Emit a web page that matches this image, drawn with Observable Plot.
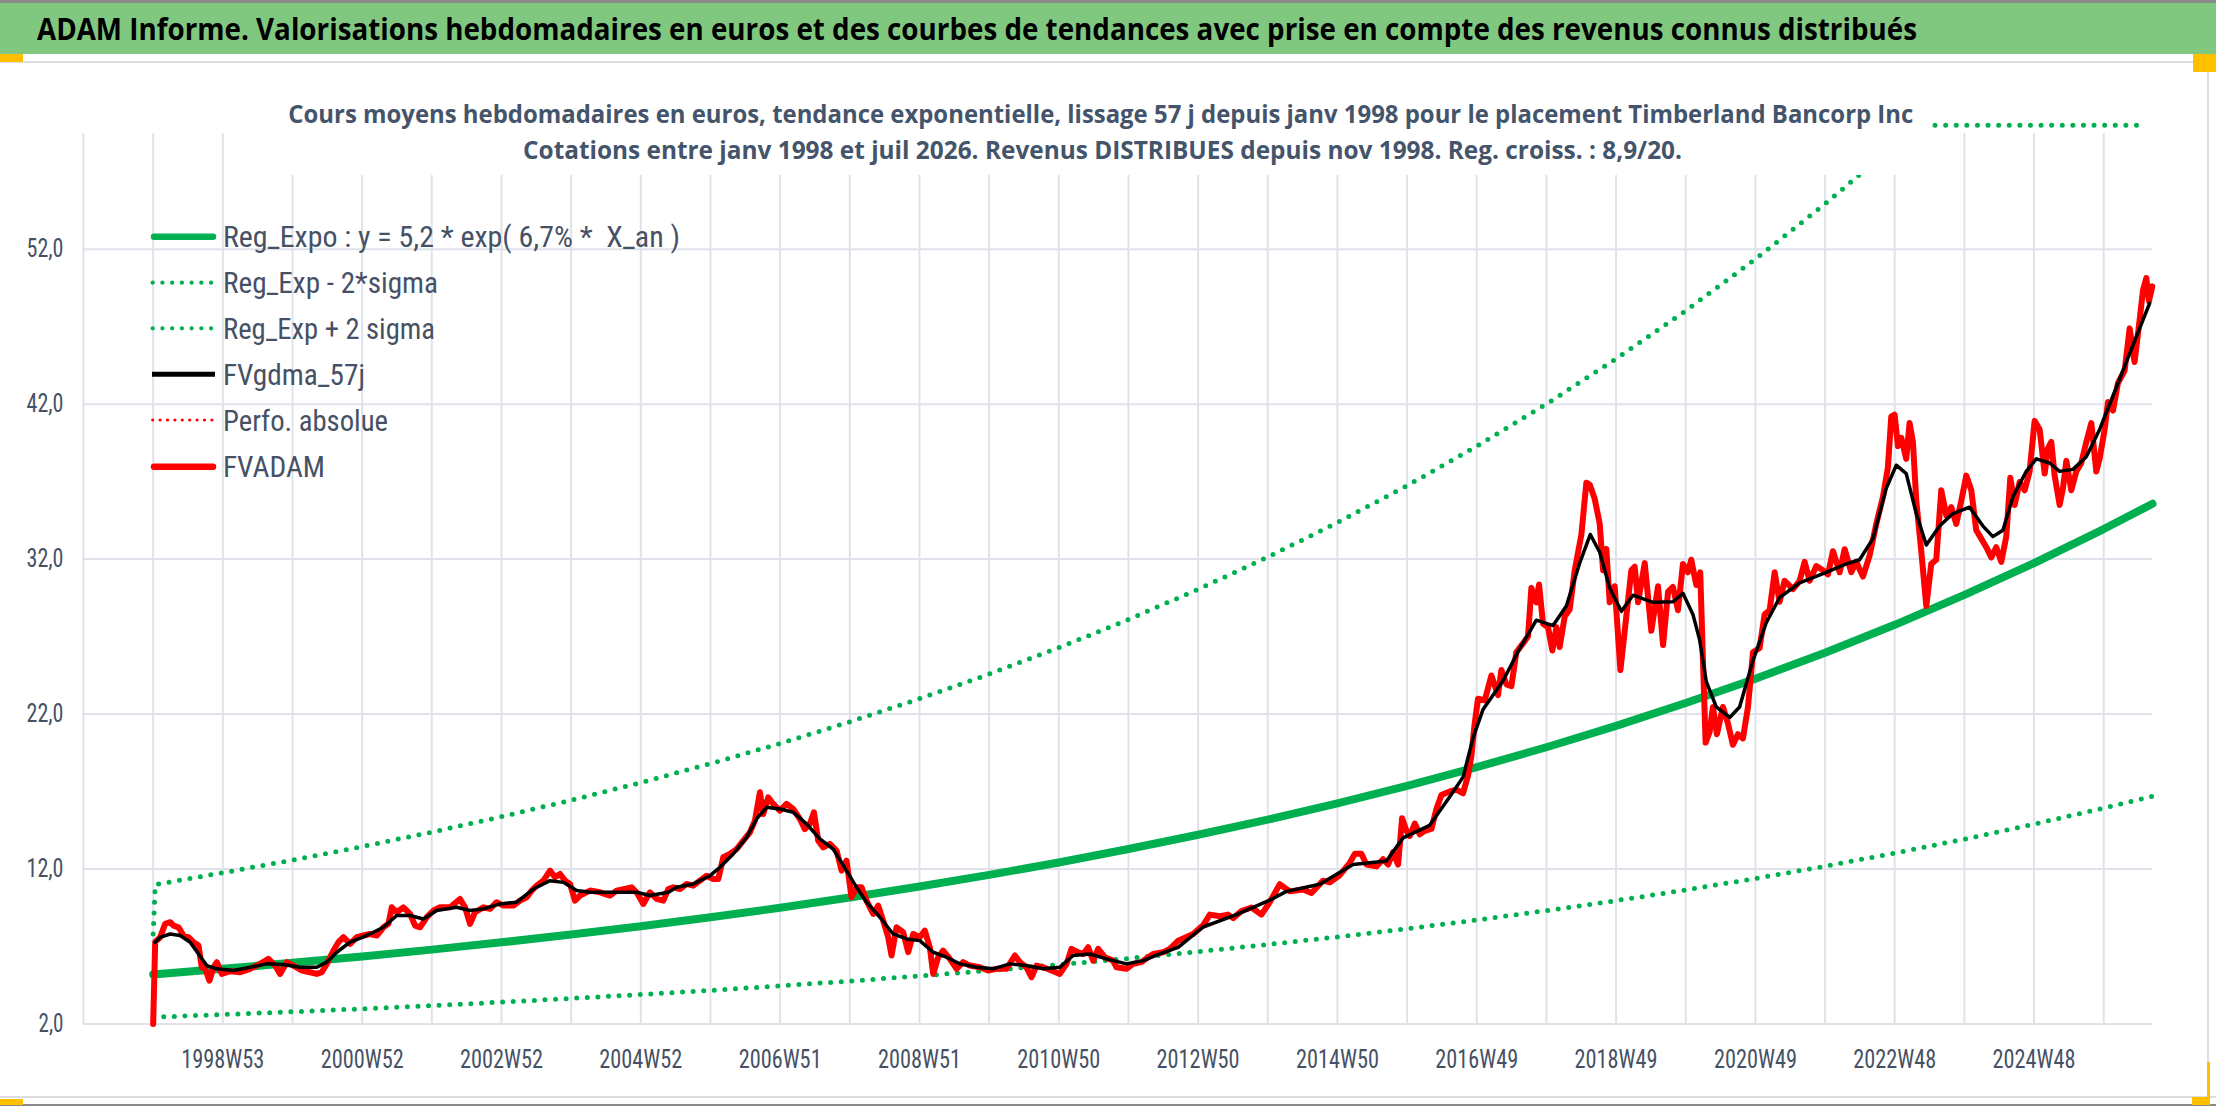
<!DOCTYPE html>
<html><head><meta charset="utf-8">
<script src="https://cdn.jsdelivr.net/npm/d3@7"></script>
<script src="https://cdn.jsdelivr.net/npm/@observablehq/plot@0.6"></script>
<style>
body{margin:0;background:#fff;}
#wrap{position:relative;width:2216px;height:1106px;overflow:hidden;background:#fff;}
.abs{position:absolute;overflow:visible;}
svg{overflow:visible;}
svg text{white-space:pre;}
</style></head><body><div id="wrap"></div>
<script>
// ---------- texts ----------
const titleText = "ADAM Informe. Valorisations hebdomadaires en euros et des courbes de tendances avec prise en compte des revenus connus distribués";
const subtitle1 = "Cours moyens hebdomadaires en euros, tendance exponentielle, lissage 57 j depuis janv 1998 pour le placement Timberland Bancorp Inc";
const subtitle2 = "Cotations entre janv 1998 et juil 2026. Revenus DISTRIBUES depuis nov 1998. Reg. croiss. : 8,9/20.";
const legendLabels = ["Reg_Expo : y = 5,2 * exp( 6,7% *  X_an )", "Reg_Exp - 2*sigma", "Reg_Exp + 2 sigma", "FVgdma_57j", "Perfo. absolue", "FVADAM"];

// ---------- axes ----------
const yTicks = [2, 12, 22, 32, 42, 52];
const gridT = d3.range(-1, 29);          // one vertical gridline per year (years since first quote)
const labelT = [1, 3, 5, 7, 9, 11, 13, 15, 17, 19, 21, 23, 25, 27];
const xLabels = ["1998W53","2000W52","2002W52","2004W52","2006W51","2008W51","2010W50","2012W50","2014W50","2016W49","2018W49","2020W49","2022W48","2024W48"];

// ---------- trend curves (years since start, value in euros) ----------
const trendT = [0,1,2,3,4,5,6,7,8,9,10,11,12,13,14,15,16,17,18,19,20,21,22,23,24,25,26,27,28,28.7];
const regExpo = [5.2,5.56,5.95,6.36,6.8,7.27,7.77,8.31,8.89,9.5,10.16,10.87,11.62,12.42,13.29,14.21,15.19,16.24,17.37,18.57,19.86,21.24,22.71,24.28,25.96,27.76,29.69,31.74,33.94,35.57];
const regLow = [2.44,2.61,2.79,2.98,3.19,3.41,3.65,3.9,4.17,4.46,4.77,5.1,5.45,5.83,6.23,6.67,7.13,7.62,8.15,8.71,9.32,9.96,10.65,11.39,12.18,13.03,13.93,14.9,15.93,16.69];
const regHigh = [[0,7.8],[0.03,11.0],[1,11.76],[2,12.58],[3,13.45],[4,14.38],[5,15.38],[6,16.44],[7,17.58],[8,18.8],[9,20.1],[10,21.5],[11,22.99],[12,24.58],[13,26.28],[14,28.1],[15,30.05],[16,32.13],[17,34.36],[18,36.74],[19,39.29],[20,42.01],[21,44.92],[22,48.03],[23,51.36],[24,54.92],[25,58.73],[25.3,60],[26,62.8],[27,67.15],[28,71.8],[28.55,74.5]];

// ---------- FVADAM (weekly quotes, sampled) ----------
const fvadam = [[0,2.0],[0.029,7.3],[0.1,7.6],[0.172,8.46],[0.244,8.57],[0.292,8.35],[0.364,8.24],[0.435,7.71],[0.507,7.6],[0.579,7.28],[0.651,7.06],[0.698,5.66],[0.746,5.56],[0.808,4.8],[0.866,5.66],[0.914,5.99],[0.985,5.23],[1.105,5.41],[1.248,5.34],[1.392,5.56],[1.535,5.88],[1.655,6.2],[1.751,5.77],[1.822,5.23],[1.918,5.99],[2.014,5.77],[2.133,5.45],[2.253,5.34],[2.348,5.23],[2.42,5.34],[2.492,5.88],[2.588,6.74],[2.659,7.28],[2.731,7.6],[2.827,7.17],[2.923,7.6],[3.018,7.71],[3.114,7.81],[3.21,7.71],[3.305,8.24],[3.377,8.46],[3.425,9.53],[3.496,9.21],[3.592,9.53],[3.688,9.1],[3.76,8.35],[3.831,8.24],[3.927,8.89],[4.023,9.32],[4.118,9.53],[4.262,9.53],[4.405,10.07],[4.477,9.53],[4.549,8.46],[4.62,9.21],[4.74,9.53],[4.836,9.43],[4.931,9.86],[5.027,9.64],[5.171,9.64],[5.266,9.96],[5.362,10.18],[5.434,10.61],[5.505,10.93],[5.601,11.25],[5.697,11.9],[5.768,11.47],[5.84,11.68],[5.912,11.25],[5.984,11.04],[6.055,9.96],[6.127,10.29],[6.271,10.61],[6.414,10.5],[6.558,10.29],[6.653,10.61],[6.868,10.82],[6.94,10.5],[7.036,9.75],[7.131,10.5],[7.227,10.07],[7.323,9.96],[7.395,10.71],[7.466,10.82],[7.562,10.71],[7.658,11.04],[7.753,10.93],[7.849,11.25],[7.945,11.57],[8.04,11.36],[8.112,11.36],[8.184,12.76],[8.279,12.97],[8.375,13.29],[8.471,13.83],[8.566,14.37],[8.638,15.12],[8.71,16.95],[8.757,15.55],[8.829,16.63],[8.901,16.2],[8.996,15.76],[9.092,16.2],[9.188,15.88],[9.283,15.23],[9.355,14.58],[9.427,14.91],[9.485,15.66],[9.547,13.83],[9.619,13.4],[9.714,13.62],[9.81,13.19],[9.882,11.9],[9.953,12.54],[10.025,10.18],[10.097,10.82],[10.169,10.82],[10.24,9.96],[10.336,9.1],[10.408,9.64],[10.479,8.67],[10.551,7.6],[10.599,6.42],[10.671,8.24],[10.766,7.92],[10.838,6.64],[10.91,7.81],[11.005,7.6],[11.077,8.03],[11.149,6.95],[11.197,5.23],[11.269,6.31],[11.34,6.74],[11.436,6.2],[11.532,5.56],[11.627,5.99],[11.723,5.77],[11.867,5.66],[11.986,5.45],[12.106,5.56],[12.249,5.56],[12.369,6.42],[12.441,5.99],[12.536,5.66],[12.608,5.02],[12.68,5.77],[12.776,5.66],[12.895,5.45],[13.015,5.23],[13.111,5.88],[13.182,6.85],[13.278,6.63],[13.35,6.52],[13.422,6.95],[13.493,6.09],[13.565,6.85],[13.661,6.31],[13.78,6.09],[13.828,5.66],[13.972,5.56],[14.067,5.88],[14.187,5.99],[14.283,6.31],[14.355,6.52],[14.498,6.63],[14.594,6.85],[14.714,7.38],[14.928,7.8],[15.072,8.37],[15.168,9.06],[15.311,8.95],[15.431,9.06],[15.503,8.83],[15.622,9.29],[15.766,9.52],[15.909,9.06],[16.029,9.87],[16.172,11.02],[16.316,10.56],[16.507,10.68],[16.627,10.45],[16.794,11.25],[16.89,11.14],[17.033,11.6],[17.177,12.4],[17.249,12.98],[17.344,12.98],[17.416,12.29],[17.559,12.17],[17.655,12.63],[17.727,12.29],[17.799,13.09],[17.871,12.29],[17.928,15.28],[17.99,14.47],[18.038,14.13],[18.11,14.93],[18.181,14.24],[18.253,14.47],[18.349,14.59],[18.42,15.86],[18.492,16.78],[18.612,17.01],[18.707,17.12],[18.803,16.89],[18.875,18.04],[18.923,19.31],[18.97,21.38],[19.018,22.99],[19.114,22.88],[19.21,24.49],[19.305,23.22],[19.353,24.84],[19.425,23.92],[19.497,23.8],[19.568,25.99],[19.664,26.56],[19.736,27.02],[19.784,30.13],[19.855,29.21],[19.894,30.36],[19.951,27.83],[20.023,27.6],[20.085,26.1],[20.143,27.6],[20.19,26.33],[20.262,28.29],[20.334,28.75],[20.406,31.28],[20.502,33.59],[20.573,36.93],[20.621,36.81],[20.693,35.89],[20.765,34.28],[20.813,31.28],[20.86,32.66],[20.908,29.21],[20.98,30.25],[21.062,24.84],[21.124,27.37],[21.219,31.28],[21.267,31.51],[21.315,29.21],[21.411,31.74],[21.506,27.37],[21.602,30.25],[21.674,26.45],[21.746,29.9],[21.816,30.2],[21.888,28.7],[21.96,31.69],[22.031,31.15],[22.079,31.96],[22.151,30.33],[22.208,31.15],[22.247,25.45],[22.285,20.16],[22.342,20.84],[22.39,22.46],[22.448,20.7],[22.534,22.46],[22.606,21.38],[22.677,20.02],[22.749,20.7],[22.821,20.43],[22.893,22.46],[22.965,25.99],[23.06,26.26],[23.132,28.43],[23.204,28.7],[23.276,31.15],[23.347,29.25],[23.419,30.6],[23.539,30.06],[23.635,30.6],[23.706,31.82],[23.778,30.6],[23.874,31.55],[23.969,31.28],[24.041,31.01],[24.113,32.51],[24.209,31.15],[24.281,32.64],[24.376,31.15],[24.448,31.82],[24.544,30.87],[24.639,32.23],[24.735,34.27],[24.831,36.03],[24.902,37.93],[24.95,41.19],[24.998,41.32],[25.046,39.29],[25.094,39.83],[25.165,38.47],[25.213,40.78],[25.261,39.56],[25.309,35.76],[25.381,32.5],[25.453,28.97],[25.524,31.69],[25.596,31.96],[25.668,36.44],[25.74,34.81],[25.811,35.35],[25.883,34.27],[25.955,35.76],[26.027,37.39],[26.099,36.44],[26.17,33.86],[26.242,33.32],[26.314,32.77],[26.386,32.1],[26.457,32.77],[26.529,31.82],[26.601,33.45],[26.659,37.25],[26.721,35.49],[26.793,36.98],[26.865,36.44],[26.936,37.66],[27.008,40.92],[27.08,40.37],[27.152,37.52],[27.199,39.15],[27.247,39.56],[27.295,37.39],[27.367,35.49],[27.415,36.58],[27.463,38.34],[27.534,36.44],[27.606,37.66],[27.678,38.2],[27.75,39.56],[27.822,40.78],[27.893,37.66],[27.941,38.47],[28.013,40.37],[28.061,42.14],[28.133,41.59],[28.204,43.36],[28.3,44.17],[28.372,46.89],[28.443,44.72],[28.515,47.43],[28.563,49.33],[28.611,50.14],[28.649,48.65],[28.697,49.6]];

// ---------- FVgdma_57j (smoothed) ----------
const fvgdma = [[0.029,7.28],[0.1,7.6],[0.244,7.81],[0.387,7.71],[0.531,7.28],[0.651,6.52],[0.77,5.77],[0.914,5.56],[1.153,5.45],[1.392,5.66],[1.631,5.88],[1.87,5.84],[2.109,5.66],[2.348,5.66],[2.492,5.99],[2.636,6.63],[2.827,7.28],[3.066,7.71],[3.305,8.24],[3.496,9.0],[3.688,9.0],[3.879,8.78],[4.07,9.32],[4.357,9.53],[4.549,9.32],[4.74,9.43],[4.979,9.75],[5.218,9.86],[5.458,10.71],[5.697,11.25],[5.888,11.14],[6.079,10.61],[6.271,10.5],[6.653,10.5],[6.94,10.5],[7.131,10.29],[7.395,10.5],[7.514,10.82],[7.753,11.04],[7.993,11.57],[8.136,12.11],[8.327,12.97],[8.519,14.04],[8.662,15.23],[8.806,15.98],[8.996,15.87],[9.188,15.66],[9.379,14.91],[9.571,13.94],[9.762,13.29],[9.953,11.9],[10.097,10.82],[10.24,9.86],[10.432,8.89],[10.623,7.81],[10.815,7.49],[11.005,7.38],[11.197,6.63],[11.388,6.31],[11.58,5.88],[11.819,5.66],[12.058,5.56],[12.297,5.88],[12.536,5.77],[12.776,5.56],[13.015,5.66],[13.206,6.42],[13.445,6.52],[13.685,6.2],[13.972,5.88],[14.211,6.09],[14.45,6.52],[14.714,6.95],[15.072,8.26],[15.55,9.06],[16.029,9.99],[16.268,10.56],[16.746,11.02],[17.224,12.29],[17.703,12.52],[17.942,14.01],[18.324,14.82],[18.612,16.66],[18.803,17.93],[18.947,20.46],[19.09,22.3],[19.377,24.15],[19.616,26.22],[19.855,28.06],[20.095,27.71],[20.286,28.98],[20.477,31.74],[20.63,33.59],[20.765,32.44],[20.908,30.13],[21.076,28.63],[21.243,29.67],[21.53,29.21],[21.816,29.25],[21.96,29.79],[22.103,28.43],[22.199,26.8],[22.295,24.09],[22.438,22.46],[22.63,21.78],[22.773,22.46],[22.965,25.45],[23.156,27.89],[23.347,29.52],[23.635,30.47],[24.017,31.15],[24.304,31.69],[24.495,31.96],[24.687,33.32],[24.878,36.57],[25.022,38.06],[25.165,37.52],[25.309,34.94],[25.453,32.91],[25.644,34.13],[25.835,34.94],[26.074,35.35],[26.266,34.13],[26.409,33.45],[26.553,33.86],[26.696,36.03],[26.888,37.66],[27.031,38.47],[27.223,38.2],[27.367,37.66],[27.558,37.79],[27.75,38.61],[27.941,40.37],[28.133,42.54],[28.324,44.71],[28.515,46.89],[28.659,48.51]];

// ---------- build page ----------
const GREEN = "#00B050", RED = "#FF0000", GRID = "#dfe3e9", TXT = "#465165";
const NARROW = "'Liberation Sans Narrow','Roboto Condensed','DejaVu Sans Condensed',Roboto,sans-serif";
const wrap = document.getElementById("wrap");
function div(css){const d=document.createElement("div");d.className="abs";d.style.cssText=css;wrap.appendChild(d);return d;}

div("left:0;top:0;width:2216px;height:3px;background:#8a8a8a;");
const bar = div("left:0;top:3px;width:2216px;height:51px;background:#80c880;");
bar.innerHTML = `<svg width="2216" height="51"><text x="37" y="36.5" font-family="'Open Sans',Lato,sans-serif" font-weight="700" font-size="31" fill="#000" textLength="1880" lengthAdjust="spacingAndGlyphs">${titleText}</text></svg>`;
div("left:0;top:61px;width:2216px;height:2px;background:#dcdee3;");

const yFmt = d => d.toFixed(1).replace(".", ",");
const labelOf = new Map(labelT.map((t,i)=>[t, xLabels[i]]));
const trend = trendT.map((t,i)=>({t, c: regExpo[i], lo: regLow[i]}));

const chart = Plot.plot({
  width: 2216, height: 1035,
  marginLeft: 83, marginRight: 64, marginTop: 62.7, marginBottom: 73.5,
  x: {domain: [-1, 28.7]},
  y: {domain: [2, 60], clamp: true},
  style: {fontFamily: NARROW, fontSize: "25px", color: TXT, background: "transparent", overflow: "visible"},
  marks: [
    Plot.ruleX(gridT, {x: d=>d, y1: 2, y2: 60, stroke: GRID, strokeWidth: 2, insetBottom: -8.5}),
    Plot.ruleY(yTicks, {y: d=>d, x1: -1, x2: 28.7, stroke: GRID, strokeWidth: 2}),
    Plot.axisY({ticks: yTicks, tickSize: 0, tickPadding: 20, tickFormat: yFmt, label: null}),
    Plot.axisX({ticks: labelT, tickSize: 0, tickPadding: 26, tickFormat: d => labelOf.get(d), label: null}),
    Plot.line(trend, {x: "t", y: "lo", stroke: GREEN, strokeWidth: 5, strokeDasharray: "0 10.6", strokeLinecap: "round"}),
    Plot.line(regHigh, {x: d=>d[0], y: d=>d[1], stroke: GREEN, strokeWidth: 5, strokeDasharray: "0 10.6", strokeLinecap: "round"}),
    Plot.line(trend, {x: "t", y: "c", stroke: GREEN, strokeWidth: 8}),
    Plot.line(fvadam, {x: d=>d[0], y: d=>d[1], stroke: RED, strokeWidth: 6, strokeLinejoin: "round"}),
    Plot.line(fvgdma, {x: d=>d[0], y: d=>d[1], stroke: "#000", strokeWidth: 3.5, strokeLinejoin: "round"})
  ]
});
const holder = div("left:0;top:62px;width:2216px;height:1035px;");
holder.appendChild(chart);
// tall, narrow tick labels like the original
chart.querySelectorAll("g[aria-label='y-axis tick label'] text").forEach(t => {
  t.setAttribute("textLength", t.textContent.length > 3 ? 37 : 25);
  t.setAttribute("lengthAdjust", "spacingAndGlyphs");
});
chart.querySelectorAll("g[aria-label='x-axis tick label'] text").forEach(t => {
  t.setAttribute("textLength", 83);
  t.setAttribute("lengthAdjust", "spacingAndGlyphs");
});

// subtitle box (white, overlapping the plot area like the original title box)
const sub = div("left:279px;top:88px;width:1650px;height:87px;background:#fff;");
sub.innerHTML = `<svg width="1650" height="87">
<text x="9.3" y="35" font-family="'Open Sans',Lato,sans-serif" font-weight="700" font-size="25" fill="#44546a" textLength="1625" lengthAdjust="spacingAndGlyphs">${subtitle1}</text>
<text x="244" y="70.5" font-family="'Open Sans',Lato,sans-serif" font-weight="700" font-size="25" fill="#44546a" textLength="1159" lengthAdjust="spacingAndGlyphs">${subtitle2}</text></svg>`;

// legend
const rows = [236.7, 282.7, 328.3, 374.3, 420, 466.7];
const widths = [457, 215, 212, 142, 165, 102];
const samples = [
  `stroke="${GREEN}" stroke-width="6.5" stroke-linecap="round" x1="154" x2="213"`,
  `stroke="${GREEN}" stroke-width="4.3" stroke-linecap="round" stroke-dasharray="0 9.73" x1="152.7" x2="211.2"`,
  `stroke="${GREEN}" stroke-width="4.3" stroke-linecap="round" stroke-dasharray="0 9.73" x1="152.7" x2="211.2"`,
  `stroke="#000" stroke-width="5" x1="152" x2="215"`,
  `stroke="${RED}" stroke-width="3.2" stroke-linecap="round" stroke-dasharray="0 7.4" x1="152.7" x2="212"`,
  `stroke="${RED}" stroke-width="6.5" stroke-linecap="round" x1="154" x2="213"`
];
let lg = `<svg width="700" height="500">`;
legendLabels.forEach((lab,i)=>{
  lg += `<line ${samples[i]} y1="${rows[i]}" y2="${rows[i]}"/>`;
  lg += `<text x="223" y="${rows[i]+10.5}" font-family="${NARROW.replace(/'/g,"&#39;")}" font-size="30" fill="${TXT}" textLength="${widths[i]}" lengthAdjust="spacingAndGlyphs">${lab}</text>`;
});
lg += `</svg>`;
const leg = div("left:0;top:0;width:700px;height:500px;pointer-events:none;");
leg.innerHTML = lg;

// frame lines and handles
div("left:0;top:1096px;width:2216px;height:2px;background:#dcdee3;");
div("left:0;top:1104px;width:2216px;height:2px;background:#8a8a8a;");
div("left:2207px;top:62px;width:2px;height:1036px;background:#dcdee3;");
div("left:0;top:54px;width:23px;height:8px;background:#ffc000;");
div("left:2193px;top:54px;width:23px;height:18px;background:#ffc000;");
div("left:0;top:1099px;width:23px;height:6px;background:#ffc000;");
div("left:2192px;top:1097px;width:18px;height:8px;background:#ffc000;");
div("left:2207px;top:1062px;width:3px;height:43px;background:#ffc000;");
</script></body></html>
